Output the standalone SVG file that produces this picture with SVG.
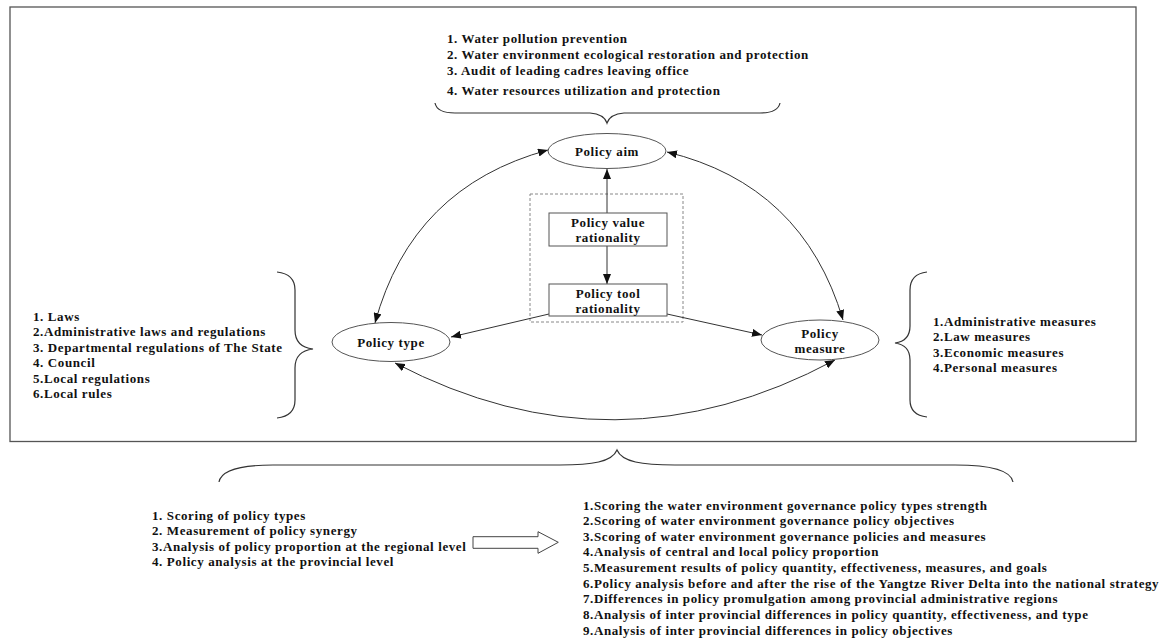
<svg xmlns="http://www.w3.org/2000/svg" width="1162" height="638" viewBox="0 0 1162 638">
<style>
.t{font-family:"Liberation Serif","Times New Roman",serif;font-weight:bold;font-size:13px;letter-spacing:0.6px;fill:#111}
.c{text-anchor:middle}
.ln{fill:none;stroke:#333;stroke-width:1}
.nd{fill:#fff;stroke:#555;stroke-width:1}
.br{fill:none;stroke:#333;stroke-width:1.2}
</style>
<defs>
<marker id="ah" viewBox="0 0 10 8" refX="10" refY="4" markerWidth="10" markerHeight="8" markerUnits="userSpaceOnUse" orient="auto-start-reverse">
<path d="M0,0 L10,4 L0,8 z" fill="#111"/>
</marker>
</defs>
<rect width="1162" height="638" fill="#fff"/>
<rect id="frame" x="10" y="7" width="1126" height="434.5" fill="none" stroke="#555" stroke-width="1.3"/>

<g id="aim-list">
<text class="t" x="447" y="43">1. Water pollution prevention</text>
<text class="t" x="447" y="58.5">2. Water environment ecological restoration and protection</text>
<text class="t" x="447" y="74.5">3. Audit of leading cadres leaving office</text>
<text class="t" x="447" y="94.5">4. Water resources utilization and protection</text>
<path class="br" d="M435,103 Q437,113 455,113 L590,113 Q604,114 607,123 Q610,114 624,113 L760,113 Q778,113 780,103"/>
</g>

<g id="type-list">
<text class="t" x="33" y="320.5">1. Laws</text>
<text class="t" x="33" y="336">2.Administrative laws and regulations</text>
<text class="t" x="33" y="351.5">3. Departmental regulations of The State</text>
<text class="t" x="33" y="367">4. Council</text>
<text class="t" x="33" y="382.5">5.Local regulations</text>
<text class="t" x="33" y="398">6.Local rules</text>
<path class="br" d="M277,272 Q295,274 295,290 L295,330 Q295,347 313,349 Q295,351 295,368 L295,400 Q295,416 277,418"/>
</g>

<g id="measure-list">
<text class="t" x="933" y="325.5">1.Administrative measures</text>
<text class="t" x="933" y="341">2.Law measures</text>
<text class="t" x="933" y="356.5">3.Economic measures</text>
<text class="t" x="933" y="372">4.Personal measures</text>
<path class="br" d="M927,272 Q910,274 910,290 L910,326 Q910,341 895,343 Q910,345 910,360 L910,400 Q910,415 927,417"/>
</g>

<rect id="rationality-frame" x="530" y="194" width="153" height="128" fill="none" stroke="#888" stroke-width="1" stroke-dasharray="3,2"/>

<g id="connectors">
<line class="ln" x1="607" y1="213" x2="607" y2="169" marker-end="url(#ah)"/>
<line class="ln" x1="607" y1="246" x2="607" y2="284" marker-end="url(#ah)"/>
<line class="ln" x1="549" y1="314" x2="451" y2="337" marker-end="url(#ah)"/>
<line class="ln" x1="667" y1="314" x2="762" y2="335" marker-end="url(#ah)"/>
<path class="ln" d="M375,323 Q412,187 548,150" marker-start="url(#ah)" marker-end="url(#ah)"/>
<path class="ln" d="M667,152 Q803,185 843,320" marker-start="url(#ah)" marker-end="url(#ah)"/>
<path class="ln" d="M395,363 Q615,478 835,360" marker-start="url(#ah)" marker-end="url(#ah)"/>
</g>

<g id="node-aim">
<ellipse class="nd" cx="607" cy="151" rx="59" ry="17.5"/>
<text class="t c" x="607" y="155.5">Policy aim</text>
</g>
<g id="node-value">
<rect class="nd" x="549" y="213" width="118" height="33"/>
<text class="t c" x="608" y="226.5">Policy value</text>
<text class="t c" x="608" y="241.5">rationality</text>
</g>
<g id="node-tool">
<rect class="nd" x="549" y="284" width="118" height="32"/>
<text class="t c" x="608" y="297.5">Policy tool</text>
<text class="t c" x="608" y="312.5">rationality</text>
</g>
<g id="node-type">
<ellipse class="nd" cx="391" cy="342" rx="59" ry="19.5"/>
<text class="t c" x="391" y="346.5">Policy type</text>
</g>
<g id="node-measure">
<ellipse class="nd" cx="820" cy="340" rx="59" ry="20"/>
<text class="t c" x="820" y="337.5">Policy</text>
<text class="t c" x="820" y="352.5">measure</text>
</g>

<g id="bottom-brace">
<path class="br" d="M219,482 Q222,465 273,465 L560,465 C592,465 612,462 617,450 C622,462 642,465 675,465 L955,465 Q1010,465 1013,482"/>
</g>

<g id="analysis-list">
<text class="t" x="152" y="519.5">1. Scoring of policy types</text>
<text class="t" x="152" y="535">2. Measurement of policy synergy</text>
<text class="t" x="152" y="550.5">3.Analysis of policy proportion at the regional level</text>
<text class="t" x="152" y="566">4. Policy analysis at the provincial level</text>
</g>

<g id="block-arrow">
<path d="M473,536.7 L538,536.7 L538,531.7 L558.3,542.3 L538,553.3 L538,548.3 L473,548.3 Z" fill="#fff" stroke="#444" stroke-width="1"/>
</g>

<g id="results-list">
<text class="t" x="583" y="509.5">1.Scoring the water environment governance policy types strength</text>
<text class="t" x="583" y="525">2.Scoring of water environment governance policy objectives</text>
<text class="t" x="583" y="540.5">3.Scoring of water environment governance policies and measures</text>
<text class="t" x="583" y="556">4.Analysis of central and local policy proportion</text>
<text class="t" x="583" y="572">5.Measurement results of policy quantity, effectiveness, measures, and goals</text>
<text class="t" x="583" y="587.5">6.Policy analysis before and after the rise of the Yangtze River Delta into the national strategy</text>
<text class="t" x="583" y="603">7.Differences in policy promulgation among provincial administrative regions</text>
<text class="t" x="583" y="619">8.Analysis of inter provincial differences in policy quantity, effectiveness, and type</text>
<text class="t" x="583" y="634.5">9.Analysis of inter provincial differences in policy objectives</text>
</g>
</svg>
